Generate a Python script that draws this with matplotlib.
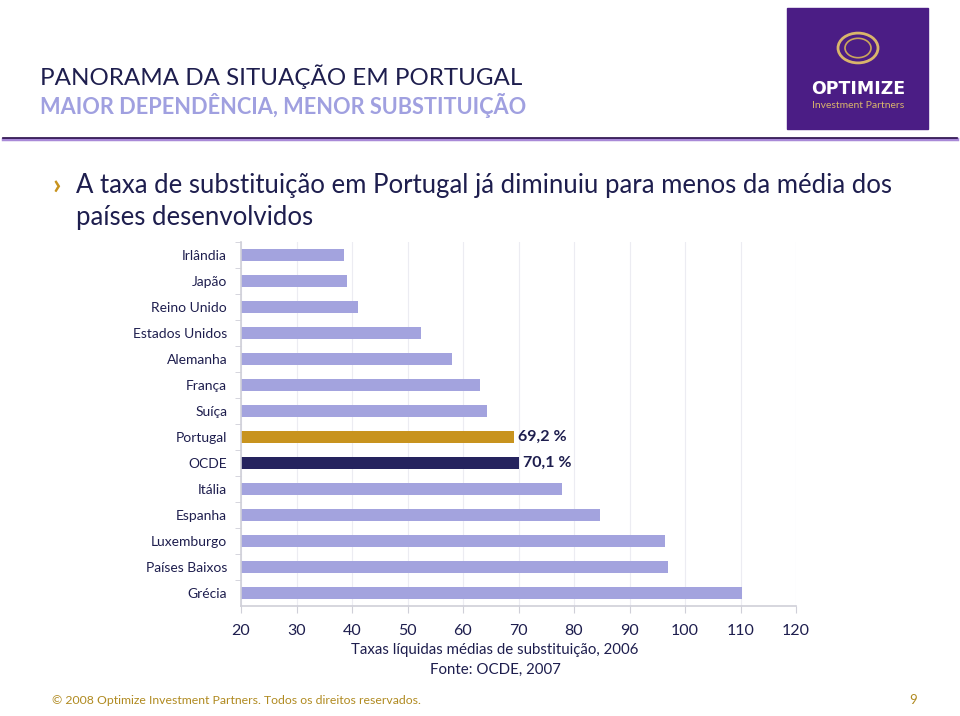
import matplotlib.pyplot as plt
from matplotlib.patches import Rectangle, Circle
from matplotlib.lines import Line2D

plt.rcParams['font.family'] = ['Lato', 'DejaVu Sans']

# Data
countries = ["Irlândia", "Japão", "Reino Unido", "Estados Unidos", "Alemanha",
             "França", "Suíça", "Portugal", "OCDE", "Itália", "Espanha",
             "Luxemburgo", "Países Baixos", "Grécia"]
rates = [38.5, 39.1, 41.1, 52.4, 58.0, 63.1, 64.3, 69.2, 70.1, 77.9, 84.6,
         96.4, 97.0, 110.3]
highlight_labels = {"Portugal": "69,2 %", "OCDE": "70,1 %"}
x_ticks = [20, 30, 40, 50, 60, 70, 80, 90, 100, 110, 120]

NAVY = "#1e1e4e"
LAV = "#a3a3de"
GOLD = "#c8931e"
DARK = "#25235e"

W, H = 960, 716
fig = plt.figure(figsize=(W / 100, H / 100), dpi=100)


def px(x, y):
    return x / W, 1 - y / H


# Header
fig.text(*px(40, 77), "PANORAMA DA SITUAÇÃO EM PORTUGAL", fontsize=17.4,
         color=NAVY, va="center", ha="left")
fig.text(*px(40, 105), "MAIOR DEPENDÊNCIA, MENOR SUBSTITUIÇÃO", fontsize=15.7,
         color="#a0a0e0", fontweight="bold", va="center", ha="left")
fig.add_artist(Line2D([3 / W, 957 / W], [1 - 139 / H] * 2, color="#a98ad8", lw=2.5))
fig.add_artist(Line2D([3 / W, 957 / W], [1 - 137.5 / H] * 2, color="#2a0f4a", lw=1.2))

# Logo
fig.add_artist(Rectangle(px(787, 129), 141 / W, 121 / H, color="#4b1d85",
                         transform=fig.transFigure))
fig.add_artist(Circle(px(858, 48), 20 / W, transform=fig.transFigure,
                      fill=False, ec="#d9b56b", lw=2))
fig.add_artist(Circle(px(858, 48), 13 / W, transform=fig.transFigure,
                      fill=False, ec="#caa55c", lw=1.2))
fig.text(*px(858, 89), "OPTIMIZE", fontsize=12.5, fontweight="bold",
         color="white", ha="center", va="center", family="DejaVu Sans")
fig.text(*px(858, 105), "Investment Partners", fontsize=7.5, color="#d9b56b",
         ha="center", va="center")

# Bullet text
fig.text(*px(52, 186), "›", fontsize=21, color=GOLD, va="center", ha="left",
         fontweight="bold")
fig.text(*px(76, 186),
         "A taxa de substituição em Portugal já diminuiu para menos da média dos",
         fontsize=18.5, color=NAVY, va="center", ha="left")
fig.text(*px(76, 217), "países desenvolvidos", fontsize=18.5, color=NAVY,
         va="center", ha="left")

# Chart
ax = fig.add_axes([241 / W, 1 - 606 / H, 555 / W, 364 / H])
colors = [GOLD if c == "Portugal" else DARK if c == "OCDE" else LAV
          for c in countries]
ypos = list(range(len(countries)))
ax.barh(ypos, rates, height=0.43, color=colors, left=0)
for y, c, v in zip(ypos, countries, rates):
    if c in highlight_labels:
        ax.text(v + 0.8, y, highlight_labels[c], va="center", ha="left",
                fontsize=11.5, fontweight="bold", color=NAVY)

ax.set_xlim(20, 120)
ax.set_ylim(len(countries) - 0.5, -0.5)
ax.set_yticks(ypos)
ax.set_yticklabels(countries, fontsize=10, color=NAVY)
ax.set_yticks([y + 0.5 for y in ypos[:-1]] + [-0.5], minor=True)
ax.tick_params(axis="y", which="major", length=0, pad=10)
ax.tick_params(axis="y", which="minor", length=4, color="#cfcfd8", direction="out")
ax.set_xticks(x_ticks)
ax.set_xticklabels([str(t) for t in x_ticks], fontsize=11.5, color=NAVY)
ax.tick_params(axis="x", length=5, color="#cfcfd8", pad=8)
ax.grid(axis="x", color="#ececf2", lw=0.8)
ax.set_axisbelow(True)
for s in ["top", "right"]:
    ax.spines[s].set_visible(False)
for s in ["left", "bottom"]:
    ax.spines[s].set_color("#cfcfd8")
    ax.spines[s].set_linewidth(1.2)

fig.text(*px(495, 650), "Taxas líquidas médias de substituição, 2006",
         fontsize=10.8, color=NAVY, ha="center", va="center")
fig.text(*px(495, 670), "Fonte: OCDE, 2007", fontsize=10.8, color=NAVY,
         ha="center", va="center")

# Footer
fig.text(*px(52, 700), "© 2008 Optimize Investment Partners. Todos os direitos reservados.",
         fontsize=8.8, color="#b08a20", ha="left", va="center")
fig.text(*px(913, 700), "9", fontsize=9.5, color="#b08a20", ha="center", va="center")

fig.savefig("out.png", dpi=100)
